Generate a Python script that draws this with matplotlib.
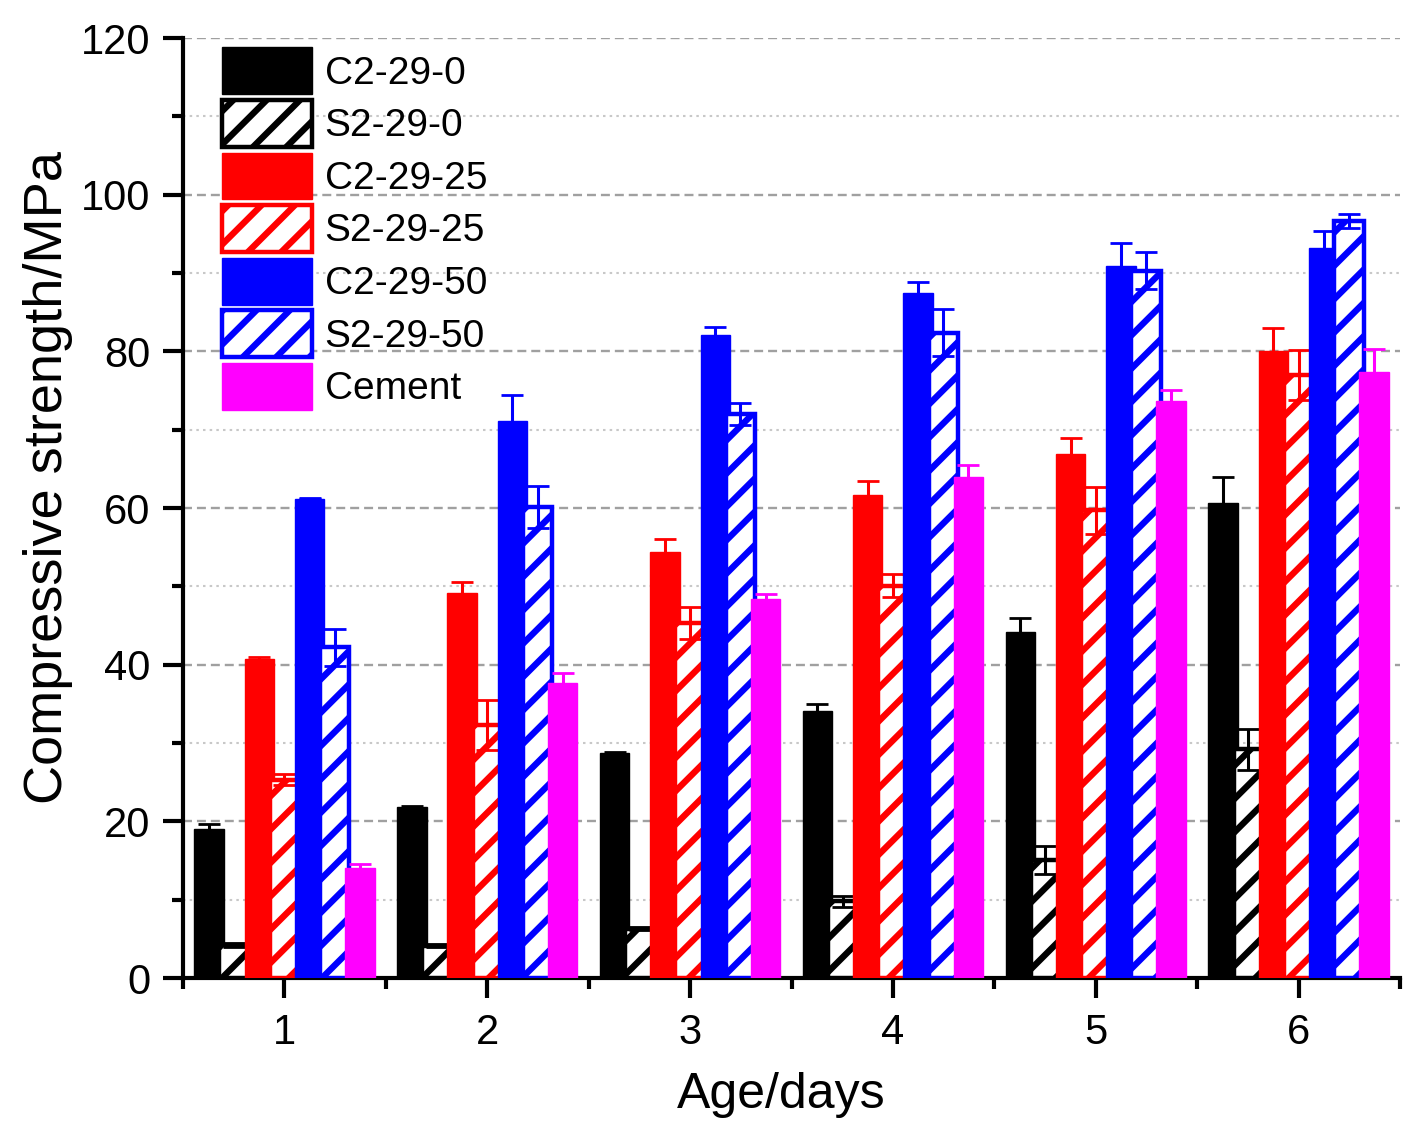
import matplotlib
matplotlib.use("Agg")
import matplotlib.pyplot as plt
import numpy as np

HATCH_LW = 4.6
plt.rcParams['font.family'] = ['Liberation Sans', 'DejaVu Sans']
plt.rcParams['hatch.linewidth'] = HATCH_LW

ages = [1, 2, 3, 4, 5, 6]
series_names = ["C2-29-0", "S2-29-0", "C2-29-25", "S2-29-25", "C2-29-50", "S2-29-50", "Cement"]

C2_29_0 = [19.0, 21.8, 28.7, 34.1, 44.2, 60.7]
C2_29_0_err = [0.6, 0.2, 0.2, 0.9, 1.7, 3.2]
S2_29_0 = [4.2, 4.1, 6.3, 9.8, 15.1, 29.2]
S2_29_0_err = [0.3, 0.2, 0.2, 0.7, 1.8, 2.6]
C2_29_25 = [40.7, 49.2, 54.4, 61.6, 66.9, 80.1]
C2_29_25_err = [0.3, 1.3, 1.7, 1.9, 2.0, 2.9]
S2_29_25 = [25.3, 32.3, 45.3, 50.1, 59.7, 77.0]
S2_29_25_err = [0.7, 3.2, 2.0, 1.5, 3.0, 3.2]
C2_29_50 = [61.2, 71.1, 82.1, 87.4, 90.9, 93.2]
C2_29_50_err = [0.1, 3.3, 1.0, 1.5, 2.9, 2.2]
S2_29_50 = [42.2, 60.1, 72.0, 82.4, 90.3, 96.6]
S2_29_50_err = [2.4, 2.7, 1.4, 3.0, 2.4, 0.9]
Cement = [14.0, 37.6, 48.4, 64.0, 73.7, 77.4]
Cement_err = [0.6, 1.4, 0.6, 1.5, 1.4, 2.9]

values = [C2_29_0, S2_29_0, C2_29_25, S2_29_25, C2_29_50, S2_29_50, Cement]
errors = [C2_29_0_err, S2_29_0_err, C2_29_25_err, S2_29_25_err, C2_29_50_err, S2_29_50_err, Cement_err]
colors = ["black", "black", "#ff0000", "#ff0000", "#0000ff", "#0000ff", "#ff00ff"]
hatched = [False, True, False, True, False, True, False]

W, H = 1423, 1136
fig = plt.figure(figsize=(W / 100, H / 100), dpi=100)
ax = fig.add_axes([183 / W, 1 - 978 / H, (1400 - 183) / W, (978 - 38) / H])

step = 0.124
width = 0.145
x = np.array(ages, dtype=float)

for i, (vals, errs, col, h, name) in enumerate(zip(values, errors, colors, hatched, series_names)):
    pos = x + (i - 3) * step
    z = 3 + i * 0.1
    if h:
        bars = ax.bar(pos, vals, width=width, facecolor="white", edgecolor=col, hatch="/",
                      linewidth=3.2, label=name, zorder=z)
        for b in bars:
            if hasattr(b, "set_hatch_linewidth"):
                b.set_hatch_linewidth(HATCH_LW)
    else:
        ax.bar(pos, vals, width=width, facecolor=col, edgecolor=col,
               linewidth=1, label=name, zorder=z)
    ax.errorbar(pos, vals, yerr=errs, fmt="none", ecolor=col, elinewidth=2.2,
                capsize=8, capthick=2.0, zorder=z + 0.05)

ax.set_xlim(0.5, 6.5)
ax.set_ylim(0, 120)
ax.set_xticks(ages)
ax.set_xticks(np.arange(0.5, 6.6, 1.0), minor=True)
ax.set_yticks(np.arange(0, 121, 20))
ax.set_yticks(np.arange(10, 120, 20), minor=True)

ax.grid(True, which="major", axis="y", color="#a0a0a0", linewidth=1.7,
        linestyle=(0, (3.8, 2.1)), zorder=0)
ax.grid(True, which="minor", axis="y", color="#c8c8c8", linewidth=1.5,
        linestyle=(0, (1.2, 2.0)), zorder=0)
ax.set_axisbelow(True)

for s in ["top", "right"]:
    ax.spines[s].set_visible(False)
for s in ["left", "bottom"]:
    ax.spines[s].set_linewidth(3)

ax.tick_params(which="major", direction="out", length=14.5, width=3, labelsize=30, pad=9)
ax.tick_params(which="minor", direction="out", length=8, width=3)
ax.tick_params(axis="x", which="major", pad=11)

fig.text(48 / W, 1 - 477 / H, "Compressive strength/MPa", rotation=90,
         ha="center", va="center", fontsize=39)
fig.text(781 / W, 1 - 1108 / H, "Age/days", ha="center", va="baseline", fontsize=36)

leg = ax.legend(loc="upper left", bbox_to_anchor=(0.032, 0.99), frameon=False,
                fontsize=28, handlelength=2.31, handleheight=1.48,
                labelspacing=0.145, handletextpad=0.33, borderpad=0, borderaxespad=0)
for hnd in leg.legend_handles:
    if hasattr(hnd, "set_hatch_linewidth") and hnd.get_hatch():
        hnd.set_hatch_linewidth(HATCH_LW)

fig.savefig("out.png", dpi=100)
